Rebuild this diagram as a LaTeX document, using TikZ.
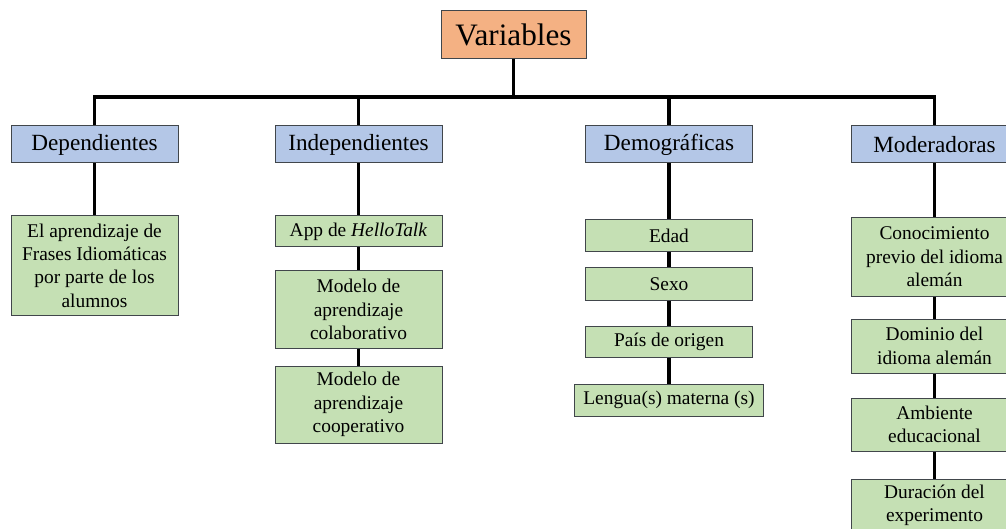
\documentclass[tikz,border=0pt]{standalone}
\usepackage{fontspec}
\setmainfont{Liberation Serif}
\usepackage{xcolor}
\usepackage{tikz}
\usetikzlibrary{positioning}
\definecolor{cajanaranja}{HTML}{F4B183}
\definecolor{cajaazul}{HTML}{B4C7E7}
\definecolor{cajaverde}{HTML}{C5E0B4}
\definecolor{borde}{HTML}{41464B}
\tikzset{
  caja/.style={draw=borde, line width=0.5pt, inner sep=1pt, align=center},
  titulo/.style={caja, fill=cajanaranja, minimum width=72.5pt, minimum height=24pt, font=\fontsize{15.6}{18}\selectfont},
  grupo/.style={caja, fill=cajaazul, minimum width=83.5pt, minimum height=18.5pt, font=\fontsize{11.6}{13}\selectfont},
  item/.style={caja, fill=cajaverde, minimum width=83.5pt, font=\fontsize{9.7}{11.7}\selectfont},
  linea/.style={line width=1.8pt, black}
}
\begin{document}
\begin{tikzpicture}[x=0.5pt, y=-0.5pt]
\useasboundingbox (0,0) rectangle (1006,529);
\clip (0,0) rectangle (1006,529);
\fill[white] (0,0) rectangle (1006,529);
% raiz
\node[titulo] (var) at (513.5,35) {Variables};
\coordinate (bus) at (0,97);
% grupos
\node[grupo] (dep) at (94.5,144.5) {Dependientes};
\node[grupo] (ind) at (358.5,144.5) {Independientes};
\node[grupo] (dem) at (669,144.5) {Demográficas};
\node[grupo] (mod) at (934.5,144.5) {Moderadoras};
% dependientes
\node[item, minimum height=49.5pt] (dep1) at (94.5,265.5) {El aprendizaje de\\Frases Idiomáticas\\por parte de los\\alumnos};
% independientes
\node[item, minimum height=15.5pt] (ind1) at (358.5,231.5) {App de \textit{HelloTalk}};
\node[item, minimum height=38.5pt] (ind2) at (358.5,309.5) {Modelo de\\aprendizaje\\colaborativo};
\node[item, minimum height=38.5pt] (ind3) at (358.5,404.5) {Modelo de\\aprendizaje\\cooperativo};
% demograficas
\node[item, minimum height=16pt] (dem1) at (669,236) {Edad};
\node[item, minimum height=16pt] (dem2) at (669,284) {Sexo};
\node[item, minimum height=15.5pt] (dem3) at (669,341.5) {País de origen};
\node[item, minimum height=16pt, minimum width=94.5pt] (dem4) at (669,400) {Lengua(s) materna (s)};
% moderadoras
\node[item, minimum height=39pt] (mod1) at (934.5,257) {Conocimiento\\previo del idioma\\alemán};
\node[item, minimum height=27pt] (mod2) at (934.5,346) {Dominio del\\idioma alemán};
\node[item, minimum height=26.5pt] (mod3) at (934.5,424.5) {Ambiente\\educacional};
\node[item, minimum height=26.5pt] (mod4) at (934.5,505.5) {Duración del\\experimento};
% conectores
\draw[linea] (var.south) -- (var.south |- bus);
\draw[linea] (dep.north) |- (bus -| mod.north) -- (mod.north);
\foreach \g in {ind,dem}
  \draw[linea] (\g.north) -- (\g.north |- bus);
\foreach \a/\b in {dep/dep1,ind/ind1,ind1/ind2,ind2/ind3,dem/dem1,dem1/dem2,dem2/dem3,dem3/dem4,mod/mod1,mod1/mod2,mod2/mod3,mod3/mod4}
  \draw[linea] (\a.south) -- (\b.north);
\end{tikzpicture}
\end{document}
